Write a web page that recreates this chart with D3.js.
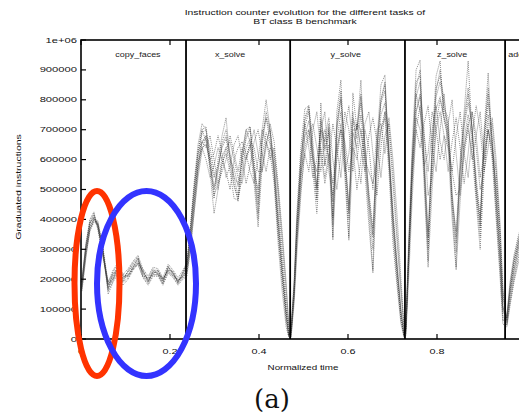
<!DOCTYPE html>
<html>
<head>
<meta charset="utf-8">
<script src="https://cdn.jsdelivr.net/npm/d3@7/dist/d3.min.js"></script>
<style>
  html, body { margin: 0; padding: 0; background: #fff; }
  svg { display: block; }
</style>
</head>
<body>
<script>
// Task phases of the run and the normalized time at which each one ends
const taskNames = ["copy_faces", "x_solve", "y_solve", "z_solve", "add"];
const taskEnds = [0.236, 0.470, 0.728, 0.953];

// Axis ticks
const yTicks = [0, 100000, 200000, 300000, 400000, 500000, 600000, 700000, 800000, 900000, 1000000];
const yTickLabels = ["0", "100000", "200000", "300000", "400000", "500000", "600000", "700000", "800000", "900000", "1e+06"];
const xTicks = [0, 0.2, 0.4, 0.6, 0.8];
const xTickLabels = ["0", "0.2", "0.4", "0.6", "0.8"];

// Sample instants (normalized time) shared by all processes
const time = [
  0.002, 0.011, 0.020, 0.029, 0.038, 0.049, 0.061, 0.072, 0.083, 0.094, 0.106, 0.117, 0.128, 0.139, 0.151, 0.162, 0.173, 0.184, 0.196, 0.207, 0.218, 0.229,
  0.238, 0.245, 0.254, 0.263, 0.272, 0.281, 0.290, 0.299, 0.308, 0.317, 0.326, 0.335, 0.344, 0.353, 0.362, 0.371, 0.380, 0.389, 0.398, 0.407, 0.416, 0.425, 0.434, 0.443, 0.452, 0.461, 0.467,
  0.472, 0.479, 0.485, 0.494, 0.503, 0.512, 0.521, 0.530, 0.539, 0.548, 0.557, 0.566, 0.575, 0.584, 0.593, 0.602, 0.611, 0.620, 0.629, 0.638, 0.647, 0.656, 0.665, 0.674, 0.683, 0.692, 0.701, 0.710, 0.719, 0.726,
  0.730, 0.737, 0.744, 0.753, 0.762, 0.771, 0.780, 0.789, 0.798, 0.807, 0.816, 0.825, 0.834, 0.843, 0.852, 0.861, 0.870, 0.879, 0.888, 0.897, 0.906, 0.915, 0.924, 0.933, 0.942, 0.948,
  0.957, 0.964, 0.973, 0.982, 0.991, 0.998
];

// Graduated instructions per sample, in thousands, one array per process
const proc0 = [
  190, 320, 395, 420, 375, 280, 170, 205, 235, 205, 225, 250, 270, 215, 190, 230, 230, 190, 240, 225, 185, 220,
  250, 350, 500, 630, 700, 710, 600, 510, 570, 650, 680, 610, 540, 480, 600, 680, 710, 580, 450, 660, 760, 700, 560, 380, 220, 80, 10,
  30, 180, 380, 600, 730, 770, 620, 500, 740, 640, 700, 400, 720, 830, 600, 430, 740, 700, 810, 640, 480, 350, 640, 800, 850, 620, 400, 230, 80, 10,
  40, 320, 580, 840, 900, 580, 320, 620, 830, 900, 760, 720, 480, 320, 560, 720, 820, 700, 520, 400, 670, 820, 660, 460, 260, 90,
  70, 170, 260, 320, 380, 440
];
const proc1 = [
  170, 280, 360, 395, 390, 310, 185, 200, 230, 210, 210, 235, 255, 230, 200, 215, 215, 205, 225, 210, 200, 205,
  220, 290, 420, 560, 640, 650, 600, 620, 680, 620, 540, 580, 650, 680, 600, 520, 580, 660, 700, 620, 560, 640, 620, 500, 340, 170, 40,
  10, 140, 320, 500, 620, 680, 720, 640, 560, 680, 740, 600, 500, 620, 760, 700, 560, 720, 640, 560, 680, 740, 660, 540, 680, 720, 560, 360, 170, 40,
  30, 280, 520, 700, 640, 720, 780, 640, 560, 700, 820, 640, 560, 680, 760, 620, 540, 680, 780, 700, 560, 640, 740, 600, 380, 170,
  50, 130, 210, 280, 330, 390
];
const proc2 = [
  200, 310, 390, 405, 370, 300, 165, 225, 250, 190, 230, 255, 275, 210, 205, 235, 215, 185, 245, 215, 195, 225,
  260, 360, 520, 650, 720, 700, 580, 470, 600, 680, 740, 600, 520, 460, 620, 700, 710, 560, 400, 700, 800, 700, 540, 350, 200, 60, 10,
  40, 200, 420, 640, 770, 780, 600, 460, 790, 580, 709, 340, 760, 866, 580, 340, 823, 700, 866, 600, 420, 230, 660, 850, 883, 600, 360, 200, 60, 10,
  50, 360, 640, 900, 933, 560, 260, 660, 880, 930, 730, 680, 440, 240, 600, 760, 930, 680, 480, 340, 700, 890, 640, 420, 220, 60,
  80, 190, 280, 340, 390, 460
];
const proc3 = [
  160, 270, 370, 400, 395, 300, 150, 190, 220, 180, 200, 230, 250, 205, 180, 210, 210, 180, 220, 205, 180, 200,
  210, 290, 420, 540, 630, 680, 560, 420, 500, 590, 620, 560, 470, 465, 540, 610, 650, 520, 375, 580, 660, 620, 520, 320, 160, 40, 5,
  5, 120, 280, 480, 640, 700, 560, 420, 640, 540, 620, 331, 620, 720, 540, 330, 640, 600, 700, 560, 380, 221, 540, 700, 740, 560, 320, 180, 50, 5,
  10, 220, 460, 700, 780, 520, 240, 500, 700, 760, 680, 640, 400, 231, 460, 620, 700, 620, 460, 300, 560, 700, 600, 400, 200, 50,
  40, 110, 190, 250, 300, 360
];
const proc4 = [
  185, 305, 375, 400, 385, 295, 180, 215, 245, 205, 215, 240, 260, 225, 190, 220, 230, 200, 230, 225, 195, 210,
  235, 330, 470, 590, 640, 600, 540, 580, 640, 600, 560, 500, 600, 640, 660, 620, 560, 520, 600, 700, 660, 600, 640, 480, 300, 140, 30,
  20, 160, 360, 560, 620, 560, 700, 760, 620, 520, 600, 720, 640, 540, 700, 780, 640, 500, 600, 720, 760, 620, 480, 640, 760, 700, 520, 330, 150, 30,
  20, 300, 560, 740, 700, 580, 620, 760, 700, 600, 680, 560, 660, 740, 640, 520, 620, 760, 680, 540, 620, 700, 640, 560, 360, 160,
  55, 145, 230, 295, 355, 410
];
const proc5 = [
  175, 295, 385, 415, 375, 285, 180, 210, 235, 200, 225, 245, 265, 220, 200, 225, 220, 195, 235, 220, 190, 215,
  245, 320, 460, 590, 690, 700, 610, 540, 580, 640, 670, 600, 570, 510, 590, 670, 700, 600, 470, 650, 740, 690, 570, 400, 240, 100, 15,
  25, 170, 360, 570, 710, 760, 630, 510, 730, 630, 690, 410, 710, 810, 610, 450, 730, 670, 790, 640, 490, 370, 630, 790, 830, 640, 430, 260, 100, 15,
  35, 310, 560, 810, 860, 590, 340, 610, 810, 860, 770, 740, 490, 340, 560, 710, 790, 710, 540, 410, 660, 790, 670, 490, 290, 110,
  65, 160, 250, 310, 370, 430
];
const proc6 = [
  195, 315, 400, 425, 365, 275, 190, 230, 255, 215, 235, 260, 280, 235, 210, 240, 235, 205, 250, 230, 205, 230,
  250, 360, 500, 620, 660, 640, 680, 600, 520, 560, 600, 680, 620, 560, 640, 600, 640, 700, 620, 560, 640, 720, 660, 520, 360, 190, 50,
  30, 180, 400, 600, 720, 640, 540, 600, 700, 760, 560, 480, 600, 700, 560, 620, 760, 620, 520, 700, 640, 500, 700, 720, 620, 740, 600, 420, 200, 40,
  40, 330, 600, 820, 760, 680, 560, 700, 780, 660, 600, 720, 800, 620, 480, 640, 720, 600, 680, 760, 600, 700, 620, 520, 340, 140,
  75, 180, 270, 330, 380, 450
];
const proc7 = [
  165, 285, 365, 390, 385, 305, 160, 195, 225, 190, 205, 235, 250, 210, 185, 215, 215, 185, 225, 210, 185, 205,
  225, 310, 440, 570, 660, 670, 590, 480, 520, 610, 640, 580, 510, 470, 560, 640, 670, 560, 420, 610, 690, 650, 550, 360, 200, 70, 8,
  8, 140, 320, 530, 680, 730, 600, 470, 700, 580, 650, 380, 660, 760, 580, 400, 690, 640, 750, 600, 450, 300, 590, 750, 790, 600, 380, 220, 70, 8,
  15, 270, 520, 760, 810, 560, 300, 560, 770, 810, 740, 700, 450, 290, 520, 670, 750, 680, 500, 370, 620, 750, 640, 450, 250, 80,
  45, 120, 200, 265, 320, 380
];
const proc8 = [
  180, 290, 370, 405, 380, 290, 190, 220, 230, 195, 215, 240, 255, 225, 195, 220, 225, 200, 230, 215, 195, 210,
  230, 320, 450, 580, 660, 680, 640, 560, 500, 580, 640, 660, 600, 540, 520, 600, 660, 640, 560, 560, 660, 700, 600, 430, 260, 100, 15,
  15, 150, 330, 540, 680, 700, 600, 560, 660, 700, 600, 520, 640, 700, 660, 560, 640, 720, 700, 600, 560, 520, 600, 700, 760, 600, 420, 250, 90, 15,
  25, 280, 540, 760, 820, 700, 480, 540, 720, 800, 740, 660, 560, 480, 500, 640, 720, 760, 640, 500, 560, 720, 720, 560, 320, 110,
  60, 150, 230, 300, 350, 420
];
const proc9 = [
  190, 305, 385, 410, 380, 295, 170, 200, 245, 215, 210, 240, 270, 230, 195, 225, 220, 195, 240, 220, 190, 220,
  245, 340, 490, 620, 700, 660, 580, 500, 560, 660, 700, 620, 540, 520, 620, 700, 660, 560, 500, 680, 740, 660, 580, 400, 240, 90, 12,
  25, 170, 370, 580, 740, 780, 660, 500, 700, 660, 720, 460, 700, 800, 640, 420, 700, 700, 820, 660, 460, 340, 640, 800, 860, 620, 400, 240, 90, 12,
  35, 320, 590, 860, 880, 620, 360, 640, 840, 880, 800, 700, 460, 360, 580, 740, 840, 700, 500, 380, 680, 840, 660, 480, 280, 100,
  70, 165, 255, 315, 375, 440
];
const processes = [proc0, proc1, proc2, proc3, proc4, proc5, proc6, proc7, proc8, proc9];

const W = 519, H = 419;
const plot = { left: 81, right: 526, top: 40, bottom: 339 };

const x = d3.scaleLinear().domain([0, 1]).range([plot.left, plot.right]);
const y = d3.scaleLinear().domain([0, 1000000]).range([plot.bottom, plot.top]);

const svg = d3.select("body").append("svg")
  .attr("width", W).attr("height", H)
  .style("font-family", "'Liberation Sans', Arial, sans-serif");

svg.append("rect").attr("width", W).attr("height", H).attr("fill", "#fff");

svg.append("defs").append("clipPath").attr("id", "plotclip")
  .append("rect")
  .attr("x", plot.left).attr("y", plot.top)
  .attr("width", plot.right - plot.left).attr("height", plot.bottom - plot.top);

// The terminal font is wide and short: widen the small labels horizontally
function widen(sel, k) {
  sel.each(function () {
    const n = this.getComputedTextLength();
    if (n > 0) {
      d3.select(this).attr("textLength", n * k).attr("lengthAdjust", "spacingAndGlyphs");
    }
  });
}

// Title
const titleLines = ["Instruction counter evolution for the different tasks of", "BT class B benchmark"];
const title = svg.append("g").selectAll("text")
  .data(titleLines)
  .join("text")
  .attr("x", 305).attr("y", (d, i) => 15 + i * 8.5)
  .attr("text-anchor", "middle")
  .attr("font-size", 7)
  .attr("fill", "#111")
  .text(d => d);
widen(title, 1.48);

// Process traces
const line = d3.line()
  .x((d, i) => x(time[i]))
  .y(d => y(d * 1000));

svg.append("g").attr("clip-path", "url(#plotclip)")
  .selectAll("path")
  .data(processes)
  .join("path")
  .attr("d", line)
  .attr("fill", "none")
  .attr("stroke", "#333")
  .attr("stroke-width", 1)
  .attr("stroke-dasharray", "1,1")
  .attr("stroke-opacity", 0.55);

// Phase separators
svg.append("g").selectAll("line")
  .data(taskEnds)
  .join("line")
  .attr("x1", d => x(d)).attr("x2", d => x(d))
  .attr("y1", plot.top).attr("y2", plot.bottom)
  .attr("stroke", "#000").attr("stroke-width", 1.8);

// Phase labels
const taskLabelAt = [0.128, 0.335, 0.595, 0.834, 0.960];
const taskLabels = svg.append("g").selectAll("text")
  .data(taskNames)
  .join("text")
  .attr("x", (d, i) => x(taskLabelAt[i]))
  .attr("y", y(950000) + 2)
  .attr("text-anchor", (d, i) => i === taskNames.length - 1 ? "start" : "middle")
  .attr("font-size", 6.4)
  .attr("fill", "#222")
  .text(d => d);
widen(taskLabels, 1.4);

// Frame
svg.append("rect")
  .attr("x", plot.left).attr("y", plot.top)
  .attr("width", plot.right - plot.left).attr("height", plot.bottom - plot.top)
  .attr("fill", "none").attr("stroke", "#000").attr("stroke-width", 1.6);

// Y ticks (inside) and labels
const yAxis = svg.append("g");
yAxis.selectAll("line")
  .data(yTicks)
  .join("line")
  .attr("x1", plot.left).attr("x2", plot.left + 5)
  .attr("y1", d => y(d)).attr("y2", d => y(d))
  .attr("stroke", "#000").attr("stroke-width", 1.2);
const yLabels = yAxis.selectAll("text")
  .data(yTicks)
  .join("text")
  .attr("x", plot.left - 4)
  .attr("y", d => y(d) + 2.5)
  .attr("text-anchor", "end")
  .attr("font-size", 7)
  .attr("fill", "#111")
  .text((d, i) => yTickLabels[i]);
widen(yLabels, 1.6);

// X ticks (inside, bottom and top) and labels
const xAxis = svg.append("g");
xAxis.selectAll("line.b")
  .data(xTicks)
  .join("line")
  .attr("class", "b")
  .attr("x1", d => x(d)).attr("x2", d => x(d))
  .attr("y1", plot.bottom).attr("y2", plot.bottom - 5)
  .attr("stroke", "#000").attr("stroke-width", 1.2);
xAxis.selectAll("line.t")
  .data(xTicks)
  .join("line")
  .attr("class", "t")
  .attr("x1", d => x(d)).attr("x2", d => x(d))
  .attr("y1", plot.top).attr("y2", plot.top + 5)
  .attr("stroke", "#000").attr("stroke-width", 1.2);
const xLabels = xAxis.selectAll("text")
  .data(xTicks)
  .join("text")
  .attr("x", d => x(d))
  .attr("y", plot.bottom + 15)
  .attr("text-anchor", "middle")
  .attr("font-size", 7)
  .attr("fill", "#111")
  .text((d, i) => xTickLabels[i]);
widen(xLabels, 1.55);

// Axis titles
const xTitle = svg.append("text")
  .attr("x", 303).attr("y", 370)
  .attr("text-anchor", "middle")
  .attr("font-size", 7)
  .attr("fill", "#111")
  .text("Normalized time");
widen(xTitle, 1.4);

const yTitle = svg.append("text")
  .attr("transform", "translate(21,187) rotate(-90)")
  .attr("text-anchor", "middle")
  .attr("font-size", 7.5)
  .attr("fill", "#111")
  .text("Graduated instructions");
widen(yTitle, 1.4);

// Highlighted regions: start-up peak and steady copy phase
svg.append("ellipse")
  .attr("cx", 97).attr("cy", 283.5).attr("rx", 22.5).attr("ry", 92.5)
  .attr("fill", "none").attr("stroke", "#ff3300").attr("stroke-width", 6);
svg.append("ellipse")
  .attr("cx", 146.5).attr("cy", 283.5).attr("rx", 49.5).attr("ry", 92.5)
  .attr("fill", "none").attr("stroke", "#3333ff").attr("stroke-width", 6);

// Sub-figure caption
svg.append("text")
  .attr("x", 272).attr("y", 408)
  .attr("text-anchor", "middle")
  .attr("font-family", "'DejaVu Serif', 'Liberation Serif', serif")
  .attr("font-size", 26)
  .attr("fill", "#111")
  .text("(a)");
</script>
</body>
</html>
